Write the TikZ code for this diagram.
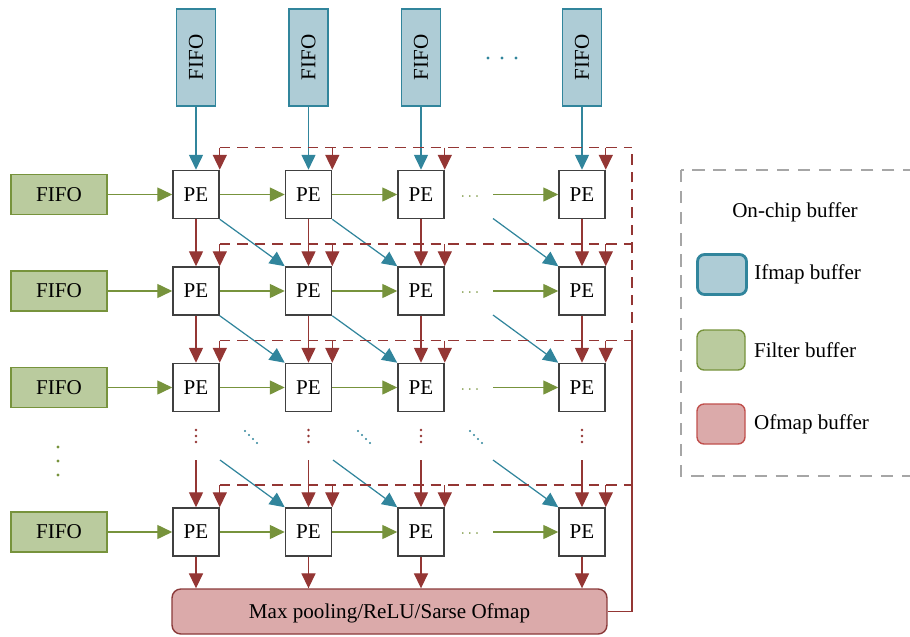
\documentclass[tikz,border=0pt]{standalone}
\usepackage{fontspec}
\setmainfont{Liberation Serif}
\usepackage{graphicx}
\usetikzlibrary{arrows.meta,positioning}

\definecolor{ifmapfill}{HTML}{AECCD6}
\definecolor{ifmapline}{HTML}{31859C}
\definecolor{filterfill}{HTML}{BACB9E}
\definecolor{filterline}{HTML}{77933C}
\definecolor{ofmapfill}{HTML}{DBAAAA}
\definecolor{ofmapline}{HTML}{8B3A3A}
\definecolor{ofmaplight}{HTML}{C0504D}
\definecolor{redline}{HTML}{943634}

\tikzset{
  pe/.style={draw=black!75, fill=white, line width=0.9pt, minimum width=0.92cm, minimum height=0.96cm, inner sep=0pt},
  ifbox/.style={draw=ifmapline, fill=ifmapfill, line width=0.7pt, minimum width=0.78cm, minimum height=1.94cm, inner sep=0pt},
  fbox/.style={draw=filterline, fill=filterfill, line width=0.8pt, minimum width=1.92cm, minimum height=0.8cm, inner sep=0pt},
  poolbox/.style={draw=ofmapline, fill=ofmapfill, line width=0.8pt, rounded corners=5pt, minimum width=8.7cm, minimum height=0.9cm, inner sep=0pt, text depth=-3pt},
  swatch/.style={rounded corners=4pt, minimum width=0.96cm, minimum height=0.8cm, inner sep=0pt},
  tip/.style={-{Triangle[length=8.5pt,width=8pt]}},
  bluearr/.style={draw=ifmapline, tip, line width=0.7pt},
  greenarr/.style={draw=filterline, tip, line width=0.7pt},
  redarr/.style={draw=redline, tip, line width=0.7pt},
  reddash/.style={draw=redline, line width=0.7pt, dash pattern=on 6pt off 4pt},
  legframe/.style={draw=black!35, line width=0.8pt, dash pattern=on 7pt off 5pt},
  dots/.style={inner sep=0pt},
}

\begin{document}
\begin{tikzpicture}[x=0.02cm, y=-0.02cm, font=\fontsize{12}{14}\selectfont]
\useasboundingbox (0,0) rectangle (910,636);

% ifmap FIFOs on top
\foreach \c/\x in {1/196,2/308.5,3/421,4/582}
  \node[ifbox] (fifoT-\c) at (\x,57.5) {\rotatebox{90}{FIFO}};
\foreach \d in {488,502,516}
  \fill[ifmapline] (\d,58) circle (0.9pt);

% PE array and filter FIFOs
\foreach \r/\y in {1/194.5,2/291,3/387.5,4/532} {
  \node[fbox] (fifoL-\r) at (59,\y) {FIFO};
  \foreach \c/\x in {1/196,2/308.5,3/421,4/582}
    \node[pe] (pe-\r-\c) at (\x,\y) {PE};
  \coordinate (dl-\r) at (632,\y-47);
  \coordinate (gs-\r) at (493,\y);
  \node[dots, text=filterline, font=\fontsize{9}{10}\selectfont] (gd-\r) at (470,\y+2) {$\cdots$};
}

\node[poolbox] (pool) at (389.5,611.5) {Max pooling/ReLU/Sarse Ofmap};

% filter flow
\foreach \r in {1,...,4} {
  \draw[greenarr] (fifoL-\r) -- (pe-\r-1);
  \draw[greenarr] (pe-\r-1) -- (pe-\r-2);
  \draw[greenarr] (pe-\r-2) -- (pe-\r-3);
  \draw[greenarr] (gs-\r) -- (pe-\r-4);
}

% ifmap flow
\foreach \c in {1,...,4}
  \draw[bluearr] (fifoT-\c) -- (pe-1-\c);
\foreach \r/\s/\y in {1/2/218.5,2/3/315} {
  \draw[bluearr] (pe-\r-1.south east) -- (pe-\s-2.north west);
  \draw[bluearr] (pe-\r-2.south east) -- (pe-\s-3.north west);
  \coordinate (ds-\r) at (493,\y);
  \draw[bluearr] (ds-\r) -- (pe-\s-4.north west);
}
\coordinate (ds-a) at (220,460);
\coordinate (ds-b) at (333,460);
\coordinate (ds-c) at (493,460);
\draw[bluearr] (ds-a) -- (pe-4-2.north west);
\draw[bluearr] (ds-b) -- (pe-4-3.north west);
\draw[bluearr] (ds-c) -- (pe-4-4.north west);

% partial sums
\foreach \c/\x in {1/196,2/308.5,3/421,4/582} {
  \draw[redarr] (pe-1-\c) -- (pe-2-\c);
  \draw[redarr] (pe-2-\c) -- (pe-3-\c);
  \coordinate (rs-\c) at (\x,460);
  \draw[redarr] (rs-\c) -- (pe-4-\c);
  \draw[redarr] (pe-4-\c.south) -- (pe-4-\c.south |- pool.north);
  \foreach \d in {430,436,442}
    \fill[redline] (\x,\d) circle (0.8pt);
}
% skipped rows
\foreach \x in {245,358,470}
  \foreach \k in {0,1,2,3}
    \fill[ifmapline] (\x+4*\k,431+4*\k) circle (0.7pt);
\foreach \d in {447,461,475}
  \fill[filterline] (58,\d) circle (0.9pt);

% feedback from the ofmap buffer
\foreach \r in {1,...,4} {
  \draw[reddash] (pe-\r-1.north east |- dl-\r) -- (dl-\r);
  \foreach \c in {1,...,4}
    \draw[redarr] (pe-\r-\c.north east |- dl-\r) -- (pe-\r-\c.north east);
}
\draw[redline, line width=0.7pt] (pool.east) -| (dl-3);
\draw[reddash] (dl-3) -- (dl-1);

% legend
\draw[legframe] (681,170) rectangle (935,476);
\node (legtitle) at (795,212) {On-chip buffer};
\node[swatch, draw=ifmapline, fill=ifmapfill, line width=1.6pt, minimum width=0.98cm, minimum height=0.8cm] (leg-if) at (722,274.5) {};
\node[swatch, draw=filterline, fill=filterfill, line width=0.8pt] (leg-f) at (721,350) {};
\node[swatch, draw=ofmaplight, fill=ofmapfill, line width=0.8pt] (leg-of) at (721,424) {};
\node[right=0.12cm of leg-if, inner sep=0pt] (legtxt-if) {Ifmap buffer};
\node[right=0.16cm of leg-f, inner sep=0pt] (legtxt-f) {Filter buffer};
\node[right=0.16cm of leg-of, inner sep=0pt] (legtxt-of) {Ofmap buffer};
\end{tikzpicture}
\end{document}
